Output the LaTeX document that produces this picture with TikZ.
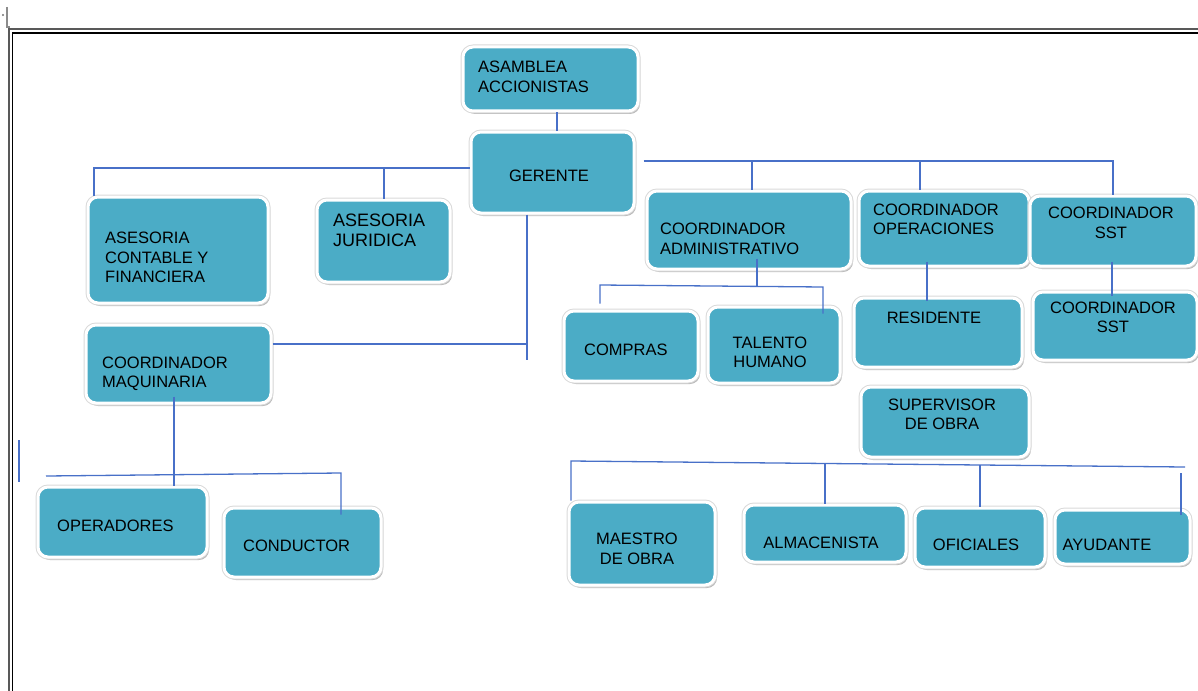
\documentclass[tikz,border=0pt]{standalone}
\usepackage{fontspec}
\setmainfont{Liberation Sans}
\usetikzlibrary{shadows}
\usetikzlibrary{calc}
\usetikzlibrary{positioning}
\definecolor{azulcaja}{RGB}{75,172,198}
\definecolor{azullinea}{RGB}{72,112,200}

\begin{document}
\begin{tikzpicture}[x=1pt, y=-1pt]
        % Define styles for shapes
        \tikzstyle{caja} = [rectangle, rounded corners=10pt, inner sep=0pt, fill=azulcaja, drop shadow={shadow xshift=2pt, shadow yshift=-3pt, fill=black!45, opacity=.6}, preaction={draw=black!15, line width=5pt}, draw=white, line width=3pt]
        \tikzstyle{rotulo} = [inner sep=0pt, font=\fontsize{16.5}{19.5}\selectfont]
        \tikzstyle{enlace} = [draw=azullinea, line width=1.3pt]
        \tikzstyle{marco} = [line width=1.6pt]
        \useasboundingbox (0,0) rectangle (1198,690);

        % Draw frame
        \draw[marco, black!65] (9,720) -- (9,29) -- (1220,29);
        \draw[marco, black, line width=1.2pt] (12.5,720) -- (12.5,33) -- (1220,33);
        \draw[black!45, line width=1.2pt] (7,7) -- (7,27) -- (10,27);
        \fill[black!55] (3,15) circle (1.1pt);

        % Draw shapes
        \node[caja, minimum width=175pt, minimum height=64pt] (asamblea) at (550.5,79) {};
        \node[caja, minimum width=163pt, minimum height=81pt] (gerente) at (552.5,172.5) {};
        \node[caja, minimum width=180pt, minimum height=106pt] (contable) at (178,250) {};
        \node[caja, minimum width=133pt, minimum height=82pt] (juridica) at (383.5,241) {};
        \node[caja, minimum width=185pt, minimum height=78pt] (maquinaria) at (178.5,364) {};
        \node[caja, minimum width=169pt, minimum height=70pt] (operadores) at (122.5,522) {};
        \node[caja, minimum width=157pt, minimum height=69pt] (conductor) at (302.5,542.5) {};
        \node[caja, minimum width=204pt, minimum height=78pt] (admin) at (749,230) {};
        \node[caja, minimum width=170pt, minimum height=75pt] (operaciones) at (944,228.5) {};
        \node[caja, minimum width=166pt, minimum height=70pt] (ssta) at (1113,231) {};
        \node[caja, minimum width=134pt, minimum height=70pt] (compras) at (631,346) {};
        \node[caja, minimum width=132pt, minimum height=76pt] (talento) at (774,345) {};
        \node[caja, minimum width=168pt, minimum height=69pt] (residente) at (938,332.5) {};
        \node[caja, minimum width=164pt, minimum height=68pt] (sstb) at (1115,326) {};
        \node[caja, minimum width=168pt, minimum height=70pt] (supervisor) at (945,422) {};
        \node[caja, minimum width=146pt, minimum height=83pt] (maestro) at (642,543.5) {};
        \node[caja, minimum width=162pt, minimum height=57pt] (almacenista) at (825,533.5) {};
        \node[caja, minimum width=130pt, minimum height=59pt] (oficiales) at (980,537.5) {};
        \node[caja, minimum width=135pt, minimum height=54pt] (ayudante) at (1122.5,537) {};

        % Draw labels
        \node[rotulo, anchor=west, align=left] (tasamblea) at (478,77) {ASAMBLEA\\ACCIONISTAS};
        \node[rotulo] (tgerente) at (549,176) {GERENTE};
        \node[rotulo, anchor=west, align=left] (tcontable) at (105,257.5) {ASESORIA\\CONTABLE Y\\FINANCIERA};
        \node[rotulo, anchor=west, align=left, font=\fontsize{18}{20}\selectfont] (tjuridica) at (333,230) {ASESORIA\\JURIDICA};
        \node[rotulo, anchor=west, align=left] (tmaquinaria) at (102,374) {COORDINADOR\\MAQUINARIA};
        \node[rotulo, anchor=west] (toperadores) at (57,526) {OPERADORES};
        \node[rotulo, anchor=west] (tconductor) at (243,546) {CONDUCTOR};
        \node[rotulo, anchor=west, align=left] (tadmin) at (660,239) {COORDINADOR\\ADMINISTRATIVO};
        \node[rotulo, anchor=west, align=left] (toperaciones) at (873,219.5) {COORDINADOR\\OPERACIONES};
        \node[rotulo, align=center] (tssta) at (1111,223) {COORDINADOR\\SST};
        \node[rotulo, anchor=west] (tcompras) at (584,350) {COMPRAS};
        \node[rotulo, align=center] (ttalento) at (770,352.5) {TALENTO\\HUMANO};
        \node[rotulo] (tresidente) at (934,318) {RESIDENTE};
        \node[rotulo, align=center] (tsstb) at (1113,317.5) {COORDINADOR\\SST};
        \node[rotulo, align=center] (tsupervisor) at (942,414.5) {SUPERVISOR\\DE OBRA};
        \node[rotulo, align=center] (tmaestro) at (637,549) {MAESTRO\\DE OBRA};
        \node[rotulo] (talmacenista) at (821,543) {ALMACENISTA};
        \node[rotulo] (toficiales) at (976,545) {OFICIALES};
        \node[rotulo] (tayudante) at (1107,545) {AYUDANTE};

        % Bus points
        \coordinate (bizq) at (94,168);
        \coordinate (bder) at (1113,161);
        \coordinate (bger) at (527,360);
        \coordinate (bmaqa) at (46,476);
        \coordinate (bmaqb) at (341,473);
        \coordinate (badma) at (600,285);
        \coordinate (badmb) at (823,287);
        \coordinate (bsupa) at (571,461);
        \coordinate (bsupb) at (1185,467);
        \coordinate (suelto) at (19,440);

        % Draw lines
        \draw[enlace] (asamblea.south -| 557,0) -- (gerente.north -| 557,0);
        \draw[enlace] (gerente.west |- bizq) -- (bizq) -- (contable.north -| bizq);
        \draw[enlace] (juridica.north -| 384,0) -- (384,168);
        \draw[enlace] ($(gerente.east |- bder)+(8,0)$) -- (bder) -- (ssta.north -| bder);
        \draw[enlace] (admin.north -| 752,0) -- (752,161);
        \draw[enlace] (operaciones.north -| 920,0) -- (920,161);
        \draw[enlace] (gerente.south -| bger) -- (bger);
        \draw[enlace] (maquinaria.east |- 0,344) -- (527,344);
        \draw[enlace] ($(maquinaria.south -| 174,0)+(0,-8)$) -- (operadores.north -| 174,0);
        \draw[enlace] (bmaqa) -- (bmaqb) -- ($(conductor.north -| bmaqb)+(0,8)$);
        \draw[enlace] ($(admin.south -| 757,0)+(0,-12)$) -- (757,286);
        \draw[enlace] ($(compras.north -| badma)+(0,-6)$) -- (badma) -- (badmb) -- ($(talento.north -| badmb)+(0,8)$);
        \draw[enlace] ($(operaciones.south -| 927,0)+(0,-6)$) -- ($(residente.north -| 927,0)+(0,4)$);
        \draw[enlace] ($(ssta.south -| 1112,0)+(0,-6)$) -- ($(sstb.north -| 1112,0)+(0,5)$);
        \draw[enlace] (maestro.north -| bsupa) -- (bsupa) -- (bsupb);
        \draw[enlace] (almacenista.north |- 0,463.5) -- (almacenista.north);
        \draw[enlace] (oficiales.north |- 0,465) -- (oficiales.north);
        \draw[enlace] (1181,473) -- ($(ayudante.north -| 1181,0)+(0,6)$);
        \draw[enlace] (suelto) -- (19,482);
    \end{tikzpicture}
\end{document}
